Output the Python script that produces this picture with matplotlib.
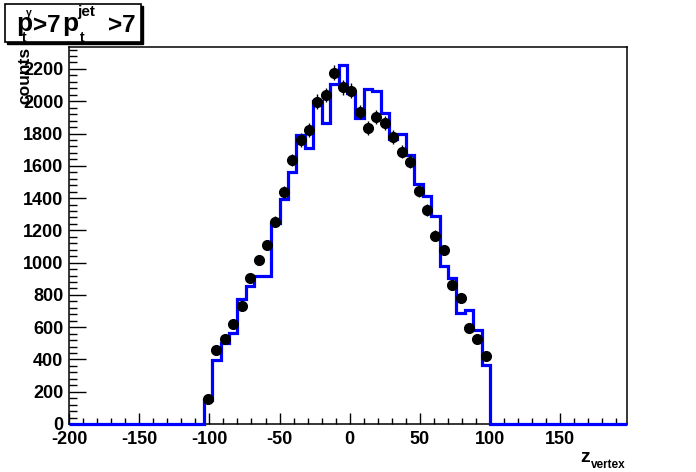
import numpy as np
import matplotlib
matplotlib.use("Agg")
import matplotlib.pyplot as plt
from matplotlib.patches import Rectangle
from matplotlib.ticker import MultipleLocator

plt.rcParams['font.family'] = ['Liberation Sans', 'DejaVu Sans']
plt.rcParams['font.weight'] = 'bold'

# ---- data ----
bin_edges = [-104, -98, -92, -86, -80, -74, -68, -62, -56, -50, -44, -38, -32, -26,
             -20, -14, -8, -2, 4, 10, 16, 22, 28, 34, 40, 46, 52, 58, 64, 70, 76,
             82, 88, 94, 100]
hist_counts = [149, 397, 504, 562, 775, 857, 917, 917, 1248, 1392, 1562, 1791, 1708,
               2004, 1867, 2107, 2225, 2053, 1894, 2074, 2062, 1929, 1764, 1797, 1664,
               1487, 1413, 1289, 981, 905, 686, 706, 583, 366]
point_x = [-101, -95, -89, -83, -77, -71, -65, -59, -53, -47, -41, -35, -29, -23,
           -17, -11, -5, 1, 7, 13, 19, 25, 31, 37, 43, 49, 55, 61, 67, 73, 79, 85,
           91, 97]
point_y = [155, 459, 525, 620, 731, 907, 1016, 1109, 1254, 1436, 1636, 1760, 1822,
           1997, 2039, 2177, 2087, 2066, 1935, 1832, 1904, 1863, 1780, 1688, 1626,
           1446, 1326, 1165, 1078, 861, 779, 593, 527, 421]
point_err = [12, 21, 23, 25, 27, 30, 32, 33, 35, 38, 40, 42, 43, 45, 45, 47, 46, 45,
             44, 43, 44, 43, 42, 41, 40, 38, 36, 34, 33, 29, 28, 24, 23, 21]
x_range = (-200, 197.5)
y_range = (0, 2336)
x_ticks = [-200, -150, -100, -50, 0, 50, 100, 150]
y_ticks = [0, 200, 400, 600, 800, 1000, 1200, 1400, 1600, 1800, 2000, 2200]

W, H = 696, 472
fig = plt.figure(figsize=(W / 100, H / 100), dpi=100)
ax = fig.add_axes([69 / W, (H - 424) / H, (627 - 69) / W, (424 - 47) / H])

edges_full = [x_range[0]] + bin_edges + [x_range[1]]
counts_full = [0] + hist_counts + [0]
ax.stairs(counts_full, edges_full, color=(0, 0, 1), lw=2.3, baseline=None,
          clip_on=False, zorder=3)
ax.errorbar(point_x, point_y, yerr=point_err, fmt='o', color='black', ms=7.0,
            elinewidth=1.0, capsize=0, zorder=4)

ax.set_xlim(*x_range)
ax.set_ylim(*y_range)
ax.set_xticks(x_ticks)
ax.set_yticks(y_ticks)
ax.set_xticklabels([str(t) for t in x_ticks])
ax.set_yticklabels([str(t) for t in y_ticks])
ax.xaxis.set_minor_locator(MultipleLocator(10))
ax.yaxis.set_minor_locator(MultipleLocator(40))
ax.tick_params(axis='x', which='major', direction='in', length=8.1, width=1.0,
               labelsize=13, pad=5)
ax.tick_params(axis='x', which='minor', direction='in', length=4.1, width=1.0)
ax.tick_params(axis='y', which='major', direction='in', length=12, width=1.0,
               labelsize=13, pad=4)
ax.tick_params(axis='y', which='minor', direction='in', length=6, width=1.0)
for lab in ax.get_xticklabels() + ax.get_yticklabels():
    lab.set_fontweight('bold')
for s in ax.spines.values():
    s.set_linewidth(1.1)


def px_text(x, y, s, size, **kw):
    """Place text at pixel coords (from top-left), baseline-aligned."""
    return fig.text(x / W, (H - y) / H, s, fontsize=size, fontweight='bold',
                    ha=kw.pop('ha', 'left'), va=kw.pop('va', 'baseline'), **kw)


# axis titles
px_text(25, 47, 'counts', 12.5, rotation=90, ha='center', va='top')
px_text(580, 462, 'z', 14)
px_text(590.5, 468, 'vertex', 8.5)

# title box with shadow
bx0, bx1, by0, by1 = 5, 141, 4, 42
fig.patches.append(Rectangle(((bx0 + 2) / W, (H - by1 - 2) / H), (bx1 - bx0) / W,
                             (by1 - by0) / H, transform=fig.transFigure,
                             facecolor='black', edgecolor='black', lw=1, zorder=5))
fig.patches.append(Rectangle((bx0 / W, (H - by1) / H), (bx1 - bx0) / W,
                             (by1 - by0) / H, transform=fig.transFigure,
                             facecolor='white', edgecolor='black', lw=1.2, zorder=6))
px_text(16, 31.5, 'p', 19, zorder=7)
px_text(22, 41.5, 't', 10, zorder=7)
px_text(25.5, 15.5, 'γ', 7.5, zorder=7)
px_text(33, 31.5, '>7', 17.5, zorder=7)
px_text(62, 31.5, 'p', 19, zorder=7)
px_text(79.5, 41.5, 't', 10, zorder=7)
px_text(77.5, 16, 'jet', 11, zorder=7)
px_text(108, 31.5, '>7', 17.5, zorder=7)

fig.savefig('out.png', dpi=100)
